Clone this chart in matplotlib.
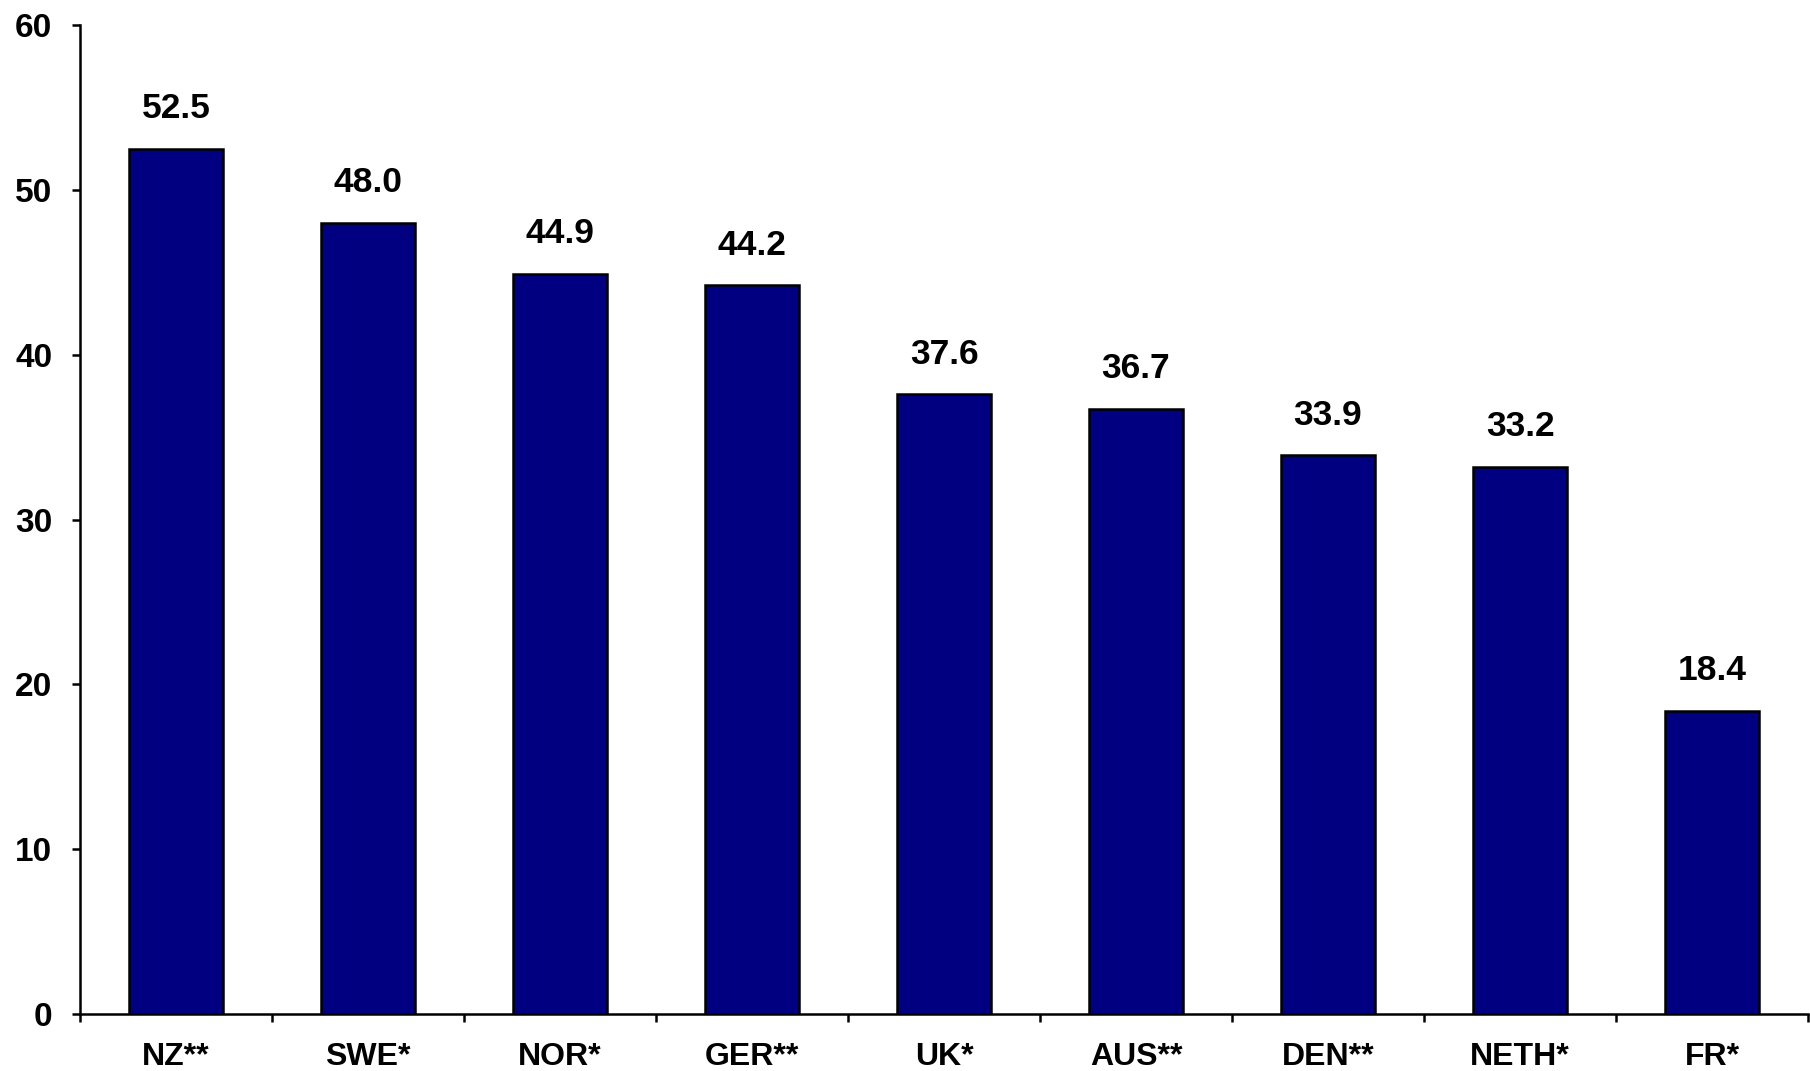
import matplotlib
matplotlib.use("Agg")
import matplotlib.pyplot as plt
import numpy as np

categories = ["NZ**", "SWE*", "NOR*", "GER**", "UK*", "AUS**", "DEN**", "NETH*", "FR*"]
values = [52.5, 48.0, 44.9, 44.2, 37.6, 36.7, 33.9, 33.2, 18.4]
yticks = [0, 10, 20, 30, 40, 50, 60]

plt.rcParams['font.family'] = ['Liberation Sans', 'DejaVu Sans']
plt.rcParams['font.weight'] = 'bold'

fig = plt.figure(figsize=(18.10, 10.71), dpi=100)
ax = fig.add_axes([80/1810, 57/1071, 1728/1810, 989/1071])

x = np.arange(len(categories))
bars = ax.bar(x, values, width=0.485, color="#000080", edgecolor="black", linewidth=1.8, zorder=3)

for xi, v in zip(x, values):
    ax.annotate(f"{v:.1f}", (xi, v), xytext=(0, 17), textcoords="offset points",
                ha="center", va="bottom", fontsize=25.5, fontweight="bold")

ax.set_xlim(-0.5, len(categories) - 0.5)
ax.set_ylim(0, 60)
ax.set_yticks(yticks)
ax.set_yticklabels([str(t) for t in yticks], fontsize=24, fontweight="bold")

ax.set_xticks(np.arange(-0.5, len(categories), 1.0))
ax.set_xticklabels([])
ax.set_xticks(x, minor=True)
ax.set_xticklabels(categories, minor=True, fontsize=23, fontweight="bold")
ax.tick_params(axis="x", which="minor", length=0, pad=20)
ax.tick_params(axis="x", which="major", length=6, width=1.8, direction="out")
ax.tick_params(axis="y", length=6, width=1.8, direction="out", pad=14)

for s in ["top", "right"]:
    ax.spines[s].set_visible(False)
for s in ["left", "bottom"]:
    ax.spines[s].set_linewidth(1.8)

fig.savefig("out.png", dpi=100)
